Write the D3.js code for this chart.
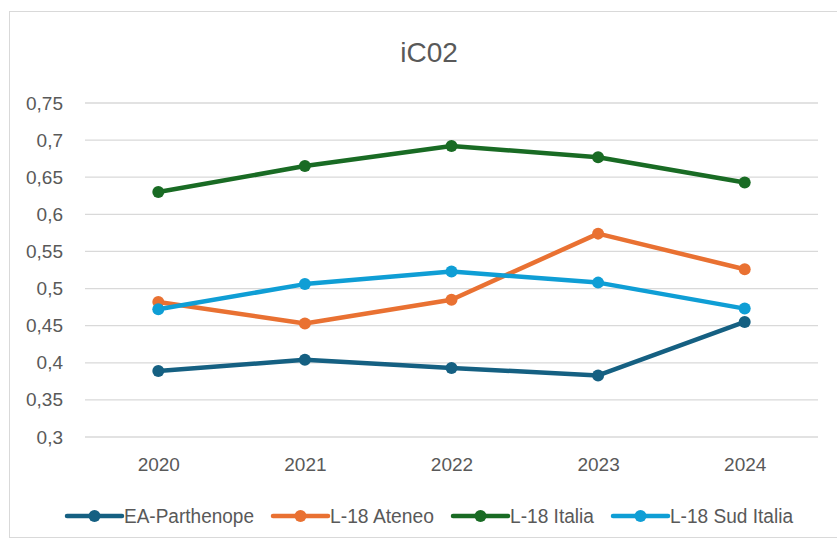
<!DOCTYPE html>
<html><head><meta charset="utf-8">
<script src="https://cdn.jsdelivr.net/npm/d3@7"></script>
<style>body{margin:0;background:#fff;}svg{display:block;font-family:"Liberation Sans",Arial,sans-serif;}</style>
</head><body>
<svg id="c" width="837" height="545"></svg>
<script>
const title = "iC02";
const years = ["2020","2021","2022","2023","2024"];
const seriesNames = ["EA-Parthenope","L-18 Ateneo","L-18 Italia","L-18 Sud Italia"];
const seriesColors = ["#156082","#E97132","#196B24","#0F9ED5"];
const eaParthenope = [0.389,0.404,0.393,0.383,0.455];
const l18Ateneo = [0.482,0.453,0.485,0.574,0.526];
const l18Italia = [0.630,0.665,0.692,0.677,0.643];
const l18SudItalia = [0.472,0.506,0.523,0.508,0.473];
const yTicks = [0.3,0.35,0.4,0.45,0.5,0.55,0.6,0.65,0.7,0.75];
const seriesValues = [eaParthenope,l18Ateneo,l18Italia,l18SudItalia];

const svg = d3.select("#c");
svg.append("rect").attr("x",9.5).attr("y",11.5).attr("width",840).attr("height",526)
  .attr("fill","#fff").attr("stroke","#d9d9d9").attr("stroke-width",1);

const x = d3.scalePoint().domain(years).range([85,818]).padding(0.5);
const y = d3.scaleLinear().domain([0.3,0.75]).range([437,103]);
const fmt = d => d3.format(".2~f")(d).replace(".",",");

svg.append("text").attr("x",429).attr("y",62).attr("text-anchor","middle")
  .attr("font-size",28).attr("fill","#595959").text(title);

svg.append("g").selectAll("line").data(yTicks).join("line")
  .attr("x1",85).attr("x2",818).attr("y1",d=>y(d)).attr("y2",d=>y(d))
  .attr("stroke","#d9d9d9").attr("stroke-width",1.3);

const ya = svg.append("g").attr("transform","translate(85,0)")
  .call(d3.axisLeft(y).tickValues(yTicks).tickFormat(fmt).tickSize(0).tickPadding(22));
ya.select(".domain").remove();
ya.selectAll("text").attr("font-size",19).attr("fill","#595959").attr("font-family","Liberation Sans, Arial, sans-serif");

const xa = svg.append("g").attr("transform","translate(0,437)")
  .call(d3.axisBottom(x).tickSize(0).tickPadding(21));
xa.select(".domain").remove();
xa.selectAll("text").attr("font-size",19).attr("fill","#595959").attr("font-family","Liberation Sans, Arial, sans-serif");

const line = d3.line().x((d,i)=>x(years[i])).y(d=>y(d));
seriesValues.forEach((vals,si)=>{
  const g = svg.append("g");
  g.append("path").datum(vals).attr("d",line).attr("fill","none")
    .attr("stroke",seriesColors[si]).attr("stroke-width",4.5).attr("stroke-linejoin","round").attr("stroke-linecap","round");
  g.selectAll("circle").data(vals).join("circle")
    .attr("cx",(d,i)=>x(years[i])).attr("cy",d=>y(d)).attr("r",6).attr("fill",seriesColors[si]);
});

const legendLineX = [67,273,453,613];
const legendTextX = [124,330,510,670];
const legendTextW = [130,104,84,123];
const ly = 516;
seriesNames.forEach((n,i)=>{
  const g = svg.append("g");
  g.append("line").attr("x1",legendLineX[i]).attr("x2",legendLineX[i]+55).attr("y1",ly).attr("y2",ly)
    .attr("stroke",seriesColors[i]).attr("stroke-width",4.5).attr("stroke-linecap","round");
  g.append("circle").attr("cx",legendLineX[i]+27.5).attr("cy",ly).attr("r",6).attr("fill",seriesColors[i]);
  g.append("text").attr("x",legendTextX[i]).attr("y",ly+7).attr("font-size",20)
    .attr("fill","#595959")
    .attr("textLength",legendTextW[i]).attr("lengthAdjust","spacingAndGlyphs").text(n);
});
</script>
</body></html>
